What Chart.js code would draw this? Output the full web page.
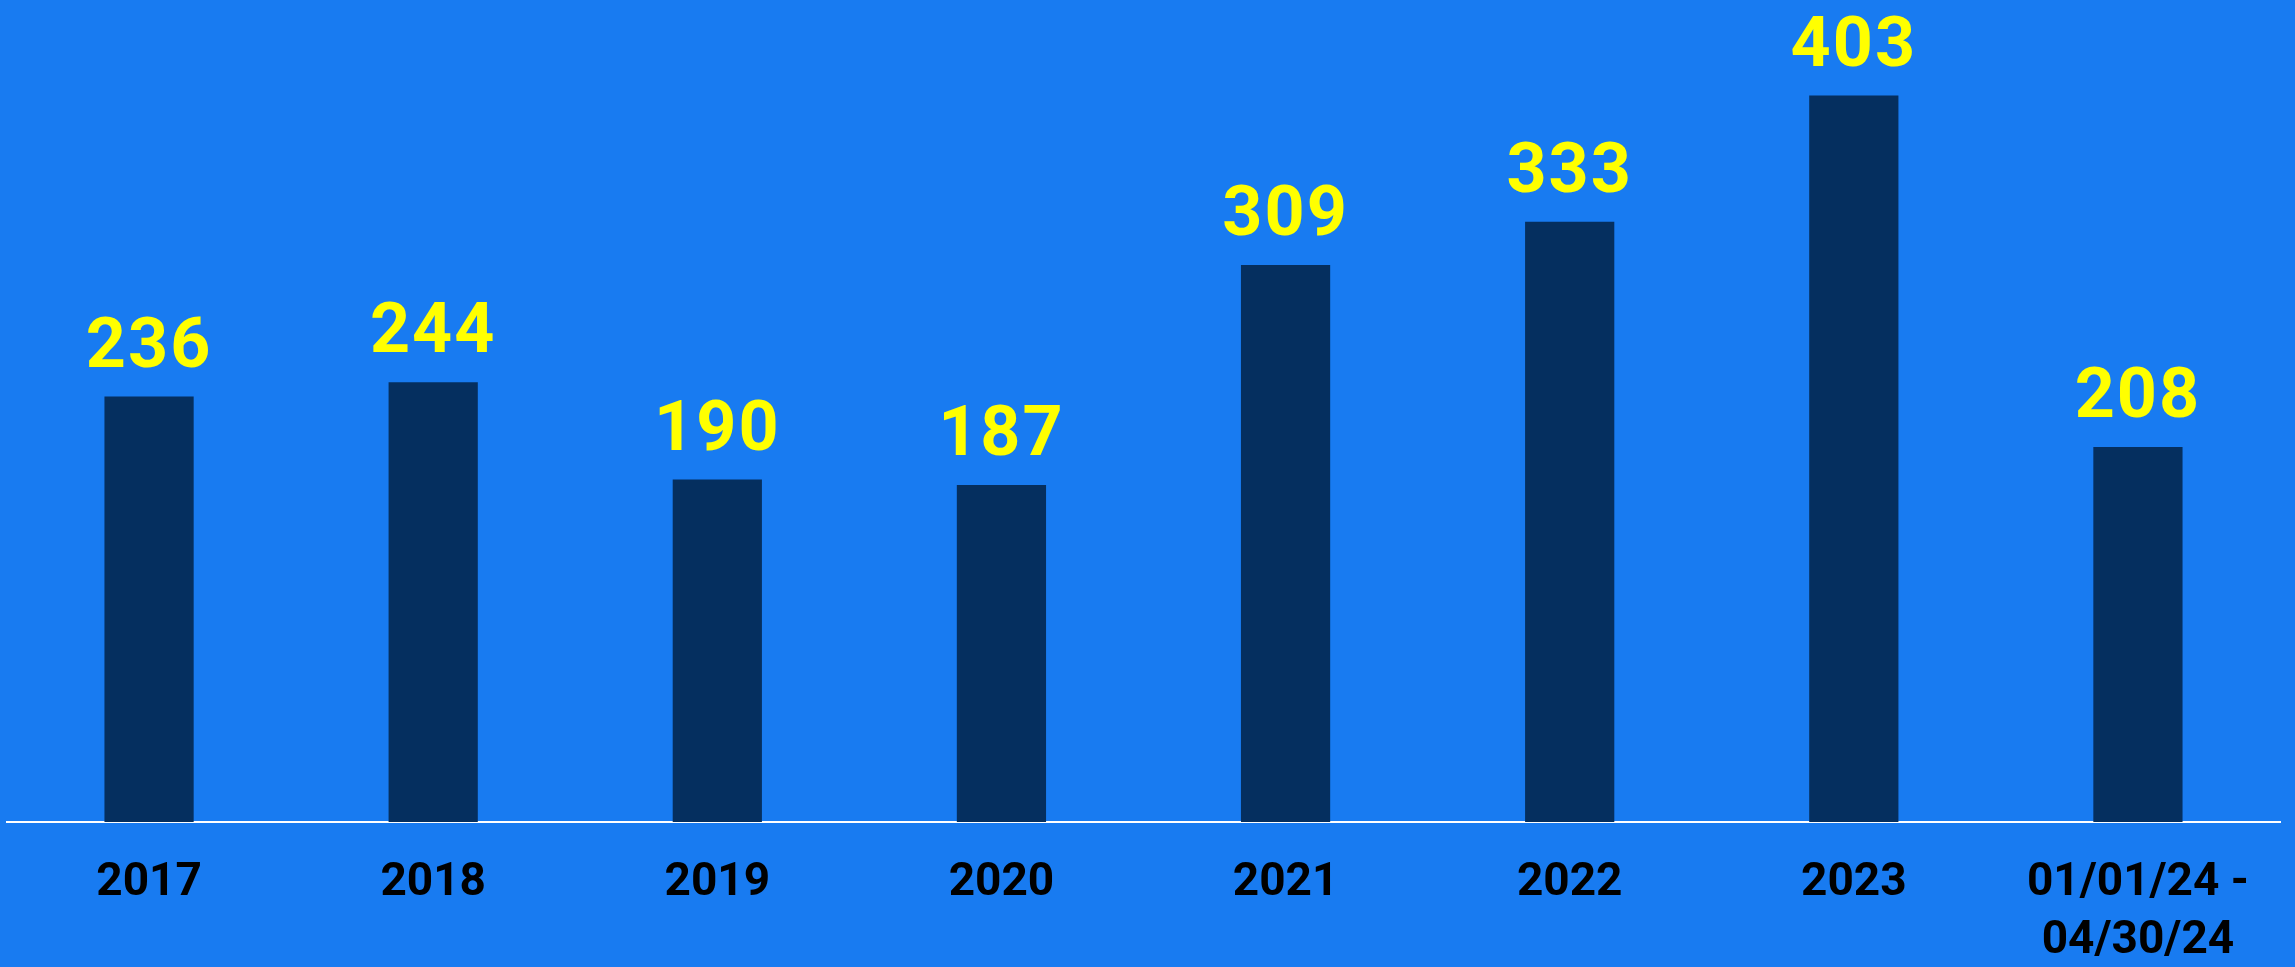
<!DOCTYPE html>
<html>
<head>
<meta charset="utf-8">
<script src="https://cdn.jsdelivr.net/npm/chart.js@4"></script>
<style>
  html, body { margin: 0; padding: 0; background: #187BF1; }
  #wrap { width: 2295px; height: 967px; }
</style>
</head>
<body>
<div id="wrap"><canvas id="c" width="2295" height="967"></canvas></div>
<script>
const categories = ["2017", "2018", "2019", "2020", "2021", "2022", "2023", ["01/01/24 -", "04/30/24"]];
const values = [236, 244, 190, 187, 309, 333, 403, 208];

const BG = '#187BF1';
const BAR = '#052F5F';
const LABEL = '#FFFF00';
const FONT = 'Roboto';

const bgPlugin = {
  id: 'bg',
  beforeDraw(chart) {
    const ctx = chart.ctx;
    ctx.save();
    ctx.fillStyle = BG;
    ctx.fillRect(0, 0, chart.width, chart.height);
    ctx.restore();
  }
};

const valueLabels = {
  id: 'valueLabels',
  afterDatasetsDraw(chart) {
    const ctx = chart.ctx;
    const meta = chart.getDatasetMeta(0);
    ctx.save();
    ctx.fillStyle = LABEL;
    ctx.font = 'bold 70px ' + FONT;
    ctx.textAlign = 'center';
    ctx.textBaseline = 'alphabetic';
    try { ctx.letterSpacing = '2px'; } catch (e) {}
    meta.data.forEach((bar, i) => {
      ctx.fillText(String(chart.data.datasets[0].data[i]), bar.x, bar.y - 30);
    });
    ctx.restore();
  }
};

Chart.defaults.devicePixelRatio = 1;

new Chart(document.getElementById('c'), {
  type: 'bar',
  data: {
    labels: categories,
    datasets: [{
      data: values,
      backgroundColor: BAR,
      borderWidth: 0,
      categoryPercentage: 1.0,
      barPercentage: 0.314
    }]
  },
  options: {
    responsive: false,
    animation: false,
    devicePixelRatio: 1,
    layout: { padding: { left: 7, right: 15, top: 0, bottom: -36 } },
    plugins: { legend: { display: false }, tooltip: { enabled: false } },
    scales: {
      x: {
        grid: { display: false, drawTicks: false },
        border: { display: true, color: '#FFFFFF', width: 2 },
        ticks: {
          color: '#000000',
          font: { family: FONT, weight: 'bold', size: 46, lineHeight: 1.25 },
          padding: 33,
          maxRotation: 0,
          autoSkip: false
        }
      },
      y: {
        display: false,
        min: 0,
        max: 456
      }
    }
  },
  plugins: [bgPlugin, valueLabels]
});
</script>
</body>
</html>
